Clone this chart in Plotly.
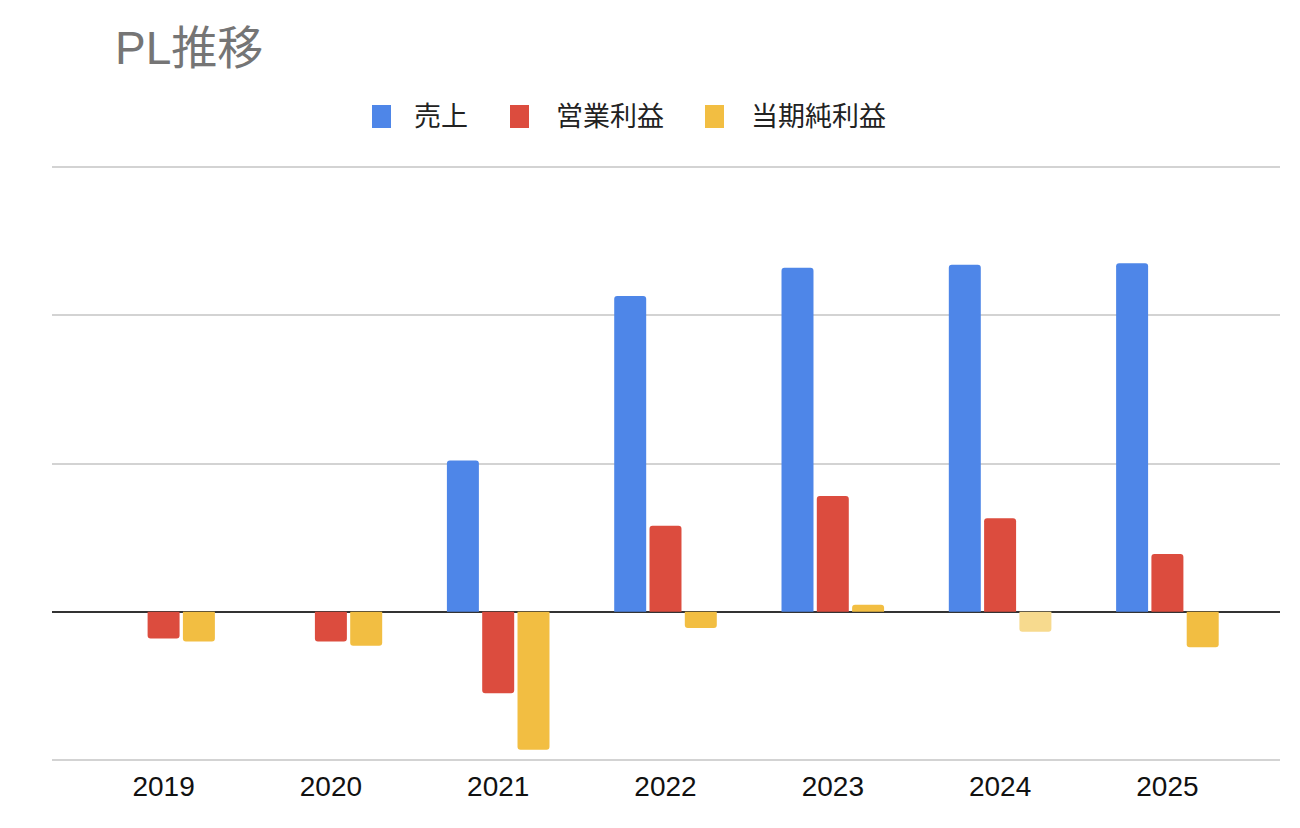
import plotly.graph_objects as go

years = ["2019", "2020", "2021", "2022", "2023", "2024", "2025"]
sales = [0, 0, 102, 213, 232, 234, 235]
operating_profit = [-18, -20, -55, 58, 78, 63, 39]
net_profit = [-20, -23, -93, -11, 4.7, -13.5, -24]

series_names = ["売上", "営業利益", "当期純利益"]
colors = ["#4e86e8", "#dc4c3e", "#f2be42"]
net_colors = ["#f2be42", "#f2be42", "#f2be42", "#f2be42", "#f2be42", "#f7da8e", "#f2be42"]

font_family = "Liberation Sans, Arial, Noto Sans CJK JP, sans-serif"

fig = go.Figure()
fig.add_trace(go.Bar(x=years, y=sales, name=series_names[0],
                     marker=dict(color=colors[0], cornerradius=3, line=dict(width=0))))
fig.add_trace(go.Bar(x=years, y=operating_profit, name=series_names[1],
                     marker=dict(color=colors[1], cornerradius=3, line=dict(width=0))))
fig.add_trace(go.Bar(x=years, y=net_profit, name=series_names[2],
                     marker=dict(color=net_colors, cornerradius=3, line=dict(width=0))))

# page offset (browser body margin) is 8px; plot area in screen coords: x 52..1280, y 164..763
PX0, PW = 52.0, 1228.0
PYB, PH = 763.0, 599.0


def px(sx):
    return (sx - PX0) / PW


def py(sy):
    return (PYB - sy) / PH


shapes = []
annotations = []
legend_rect_x = [372, 510, 705]
legend_text_x = [412, 554, 749]
for i, name in enumerate(series_names):
    shapes.append(dict(type="rect", xref="paper", yref="paper",
                       x0=px(legend_rect_x[i]), x1=px(legend_rect_x[i] + 19),
                       y0=py(128), y1=py(105),
                       fillcolor=colors[i], line=dict(width=0), layer="above"))
    annotations.append(dict(text=name, xref="paper", yref="paper",
                            x=px(legend_text_x[i]), y=py(117),
                            xanchor="left", yanchor="middle", showarrow=False,
                            font=dict(size=27, color="#222222", family=font_family)))

fig.update_layout(
    width=1300, height=828,
    paper_bgcolor="white", plot_bgcolor="white",
    margin=dict(l=44, r=28, t=156, b=73),
    barmode="group", bargap=0.367, bargroupgap=0.094,
    font=dict(family=font_family, color="#222222"),
    title=dict(text="PL推移", x=107/1300, xanchor="left", y=1-40/828, yanchor="middle",
               xref="container", yref="container",
               font=dict(size=46, color="#757575", family=font_family)),
    showlegend=False,
    shapes=shapes,
    annotations=annotations,
)
fig.update_xaxes(range=[-0.667, 6.673], showgrid=False, showline=False, ticks="",
                 tickfont=dict(size=28, color="#111111"), ticklabelstandoff=4)
fig.update_yaxes(range=[-102, 302], dtick=100, tick0=0, showticklabels=False,
                 showgrid=True, gridcolor="#d3d3d3", gridwidth=2,
                 zeroline=True, zerolinecolor="#333333", zerolinewidth=2, showline=False)

fig.write_html("out.html")
